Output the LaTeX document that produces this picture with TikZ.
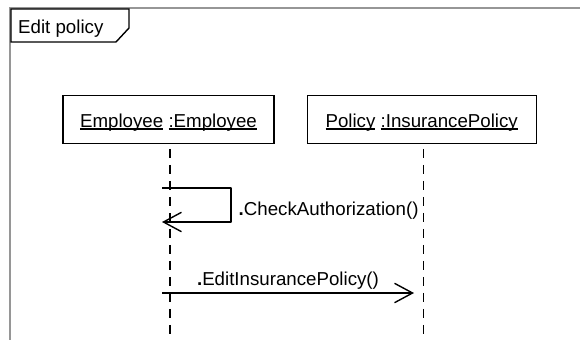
\documentclass[tikz,border=0pt]{standalone}
\usepackage{fontspec}
\setmainfont{Liberation Sans}
\usetikzlibrary{arrows.meta}
\definecolor{framegray}{RGB}{150,150,150}
\newsavebox\ulbox
\newcommand\ulword[1]{\sbox\ulbox{#1}\rlap{\rule[-1.8pt]{\wd\ulbox}{1.2pt}}\usebox\ulbox}

\begin{document}
\begin{tikzpicture}[x=1pt,y=-1pt,
	font=\fontsize{18.7}{22}\selectfont,
	objbox/.style={draw, line width=1.4pt, minimum height=47.5pt,
		text height=16.4pt, text depth=0pt, inner sep=0pt},
	lifeline/.style={line width=1.4pt, dash pattern=on 9pt off 7pt},
	msg/.style={line width=1.4pt, line join=round,
		-{Straight Barb[length=18pt,width=19.4pt]}},
	msglabel/.style={inner sep=0pt}]
		\useasboundingbox (0,0) rectangle (580,340);

		%% Frame and its tab
		\draw[framegray, line width=1.6pt] (580,8) -- (10,8) -- (10,340);
		\draw[fill=white, line width=1.4pt] (11,9) -- (129,9) -- (129,28) -- (116,42) -- (11,42) -- cycle;
		\node[anchor=base west, inner sep=0pt] (title) at (18,33.3) {Edit policy};

		%% Objects
		\node[objbox, minimum width=211pt] (emp) at (168.5,119.5) {\ulword{Employee} \ulword{:Employee}};
		\node[objbox, minimum width=229pt] (pol) at (421.7,119.5) {\ulword{Policy} \ulword{:InsurancePolicy}};

		% Lifelines
		\draw[lifeline] ([xshift=1.5pt,yshift=-5pt]emp.south) -- ++(0,190) coordinate (empEnd);
		\draw[lifeline] ([xshift=1.5pt,yshift=-5pt]pol.south) -- ++(0,190) coordinate (polEnd);

		% Self call
		\coordinate (chkStart) at (162,188);
		\draw[msg] (chkStart) -- ++(69,0) -- ++(0,34) -- ++(-69,0);
		\node[msglabel, anchor=base west] (chkLbl) at (238.5,215) {\textbf{.}CheckAuthorization()};

		% Call to the policy
		\coordinate (editStart) at (162,293);
		\coordinate (editEnd) at (414,293);
		\draw[msg] (editStart) -- (editEnd)
			node[msglabel, midway, anchor=base, yshift=8pt] (editLbl) {\textbf{.}EditInsurancePolicy()};
\end{tikzpicture}
\end{document}
